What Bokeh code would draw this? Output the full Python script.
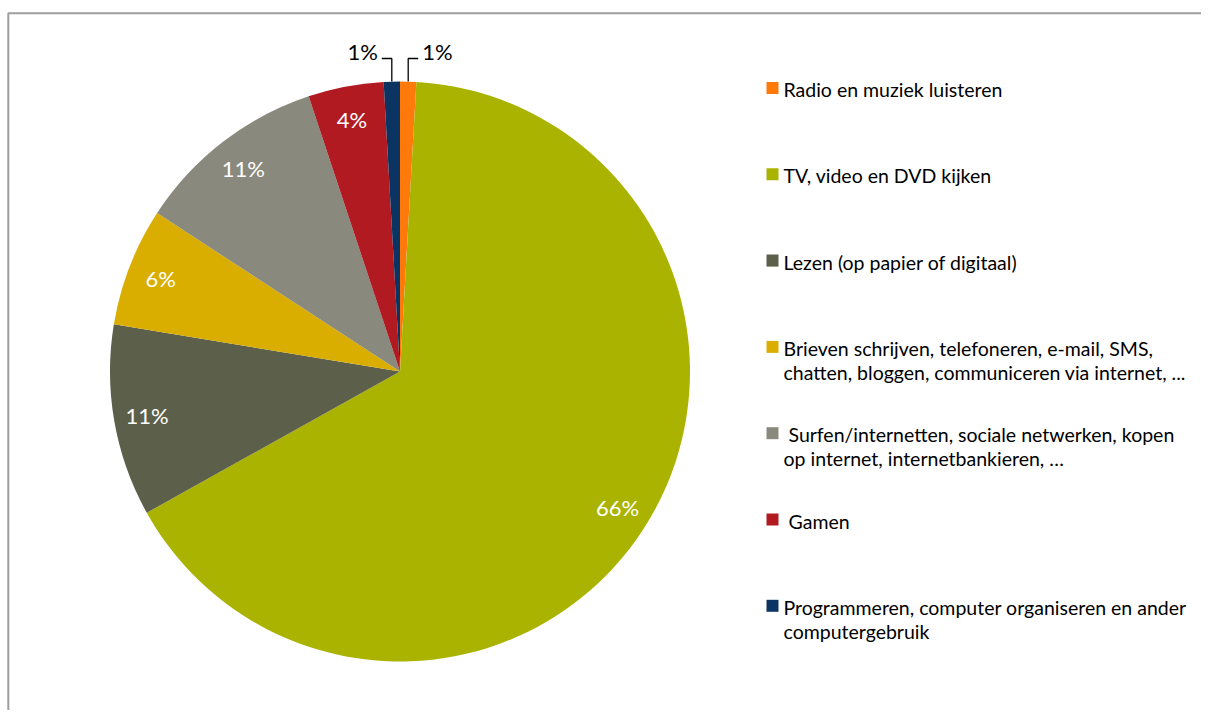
import math
from bokeh.plotting import figure
from bokeh.models import Range1d
from bokeh.core.properties import value
from bokeh.embed import file_html
from bokeh.resources import INLINE

# ---- data ----
categories = [
    "Radio en muziek luisteren",
    "TV, video en DVD kijken",
    "Lezen (op papier of digitaal)",
    "Brieven schrijven, telefoneren, e-mail, SMS,\nchatten, bloggen, communiceren via internet, ...",
    " Surfen/internetten, sociale netwerken, kopen\nop internet, internetbankieren, \u2026",
    " Gamen",
    "Programmeren, computer organiseren en ander\ncomputergebruik",
]
shares = [0.9, 66.0, 10.7, 6.6, 10.7, 4.2, 0.9]
pct_labels = ["1%", "66%", "11%", "6%", "11%", "4%", "1%"]
colors = ["#FF7A0A", "#AAB400", "#5C5F49", "#D9AE00", "#8A897E", "#B21A22", "#0C3462"]
outside = [True, False, False, False, False, False, True]

W, H = 1201, 710
FONT = "Lato"

p = figure(width=W, height=H, output_backend="svg", toolbar_location=None,
           x_range=Range1d(0, W), y_range=Range1d(0, H),
           x_axis_location=None, y_axis_location=None, min_border=0)
p.grid.visible = False
p.outline_line_color = None
p.background_fill_color = "white"
p.border_fill_color = "white"

# frame
p.line([7.8, 7.8, W + 10], [-10, 697.3, 697.3], line_color="#9E9E9E", line_width=2)

cx, cy, R = 399.5, 339.0, 290.0
total = sum(shares)
cum = 0.0
starts, ends, mids = [], [], []
for s in shares:
    c0 = cum / total
    cum += s
    c1 = cum / total
    starts.append(math.pi / 2 - 2 * math.pi * c0)
    ends.append(math.pi / 2 - 2 * math.pi * c1)
    mids.append(2 * math.pi * (c0 + c1) / 2)  # clockwise from top

p.wedge(x=[cx] * len(shares), y=[cy] * len(shares), radius=R,
        start_angle=starts, end_angle=ends, direction="clock",
        fill_color=colors, line_color=None)

# inside labels
ix, iy, itxt = [], [], []
for m, lab, out in zip(mids, pct_labels, outside):
    if out:
        continue
    ix.append(cx + 0.885 * R * math.sin(m))
    iy.append(cy + 0.885 * R * math.cos(m))
    itxt.append(lab)
p.text(x=ix, y=iy, text=itxt, text_color="white", text_font=value(FONT),
       text_font_size="22px", text_align="center", text_baseline="middle")

# outside labels with leader lines
for m, lab, out in zip(mids, pct_labels, outside):
    if not out:
        continue
    ex = cx + R * math.sin(m)
    ey = cy + R * math.cos(m)
    ly = cy + R + 23
    side = 1 if math.sin(m) > 0 else -1
    p.line([ex, ex, ex + side * 10], [ey, ly, ly], line_color="black", line_width=1.3)
    p.text(x=[ex + side * 14], y=[ly + 7], text=[lab], text_color="black",
           text_font=value(FONT), text_font_size="22px",
           text_align="left" if side > 0 else "right", text_baseline="middle")

# legend
lx_sq = 772.0
lx_txt = 783.0
ly0 = H - 89
step = 86.3
line_h = 24
for i, (cat, col) in enumerate(zip(categories, colors)):
    y0 = ly0 - i * step
    p.rect(x=[lx_sq], y=[y0 + 1.5], width=12, height=12, fill_color=col, line_color=None)
    for j, ln in enumerate(cat.split("\n")):
        shift = 5 if ln.startswith(" ") else 0
        p.text(x=[lx_txt + shift], y=[y0 - j * line_h], text=[ln.strip()], text_color="black",
               text_font=value(FONT), text_font_size="19.5px",
               text_align="left", text_baseline="middle")

open("out.html", "w").write(file_html(p, INLINE))
